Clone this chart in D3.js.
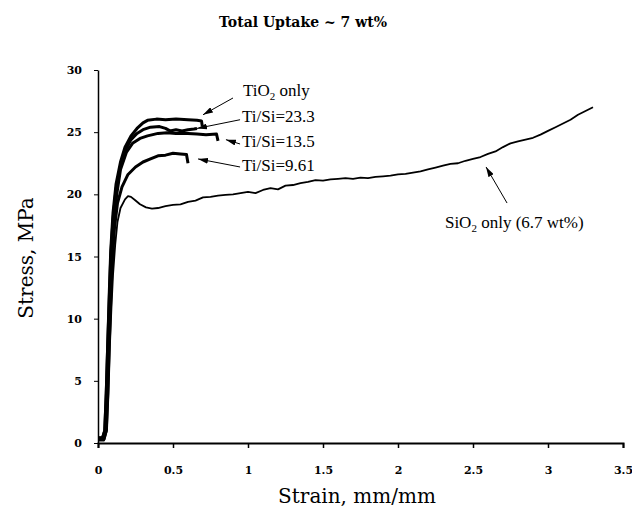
<!DOCTYPE html>
<html>
<head>
<meta charset="utf-8">
<script src="https://cdn.jsdelivr.net/npm/d3@7"></script>
<style>
  body { margin: 0; background: #fff; }
  svg { display: block; }
</style>
</head>
<body>
<svg id="chart"></svg>
<script>
// strain (mm/mm) and stress (MPa)
const tio2Strain = [0, 0.03, 0.045, 0.055, 0.065, 0.075, 0.085, 0.1, 0.12, 0.15, 0.18, 0.22, 0.26, 0.3, 0.33, 0.39, 0.45, 0.52, 0.6, 0.66, 0.69, 0.695];
const tio2Stress = [0.4, 0.4, 1, 4, 8, 12, 15.5, 18.5, 20.8, 22.6, 23.8, 24.7, 25.3, 25.75, 25.95, 26.05, 26.0, 26.05, 26.0, 25.95, 25.9, 25.5];

const ts233Strain = [0, 0.03, 0.045, 0.055, 0.065, 0.075, 0.085, 0.1, 0.12, 0.15, 0.18, 0.22, 0.26, 0.3, 0.35, 0.41, 0.45, 0.48, 0.52, 0.56, 0.6, 0.64, 0.66];
const ts233Stress = [0.4, 0.4, 1, 4, 8, 11.5, 15, 18, 20.4, 22.3, 23.5, 24.4, 24.9, 25.2, 25.4, 25.45, 25.3, 25.1, 25.2, 25.1, 25.2, 25.25, 25.3];

const ts135Strain = [0, 0.035, 0.05, 0.06, 0.07, 0.08, 0.09, 0.105, 0.125, 0.15, 0.19, 0.23, 0.28, 0.33, 0.4, 0.46, 0.52, 0.6, 0.66, 0.72, 0.79, 0.8];
const ts135Stress = [0.4, 0.4, 1, 4, 8, 11.5, 14.5, 17.5, 20, 22, 23.4, 24.1, 24.5, 24.7, 24.9, 24.95, 24.9, 24.9, 24.85, 24.8, 24.85, 24.3];

const ts961Strain = [0, 0.04, 0.055, 0.065, 0.075, 0.085, 0.095, 0.11, 0.13, 0.16, 0.2, 0.25, 0.3, 0.35, 0.4, 0.45, 0.5, 0.55, 0.59, 0.6];
const ts961Stress = [0.3, 0.3, 1, 4, 8, 11.5, 14.5, 17.3, 19.3, 20.6, 21.6, 22.2, 22.6, 22.85, 23.1, 23.15, 23.3, 23.25, 23.2, 22.5];

const sio2Strain = [0, 0.04, 0.06, 0.07, 0.08, 0.09, 0.1, 0.115, 0.13, 0.15, 0.18, 0.2, 0.22, 0.25, 0.28, 0.32, 0.36, 0.4, 0.45, 0.5, 0.55, 0.6, 0.65, 0.7, 0.75, 0.8, 0.85, 0.9, 0.95, 1.0, 1.05, 1.1, 1.15, 1.2, 1.25, 1.3, 1.35, 1.4, 1.45, 1.5, 1.55, 1.6, 1.65, 1.7, 1.75, 1.8, 1.85, 1.9, 1.95, 2.0, 2.05, 2.1, 2.15, 2.2, 2.25, 2.3, 2.35, 2.4, 2.45, 2.5, 2.55, 2.6, 2.65, 2.7, 2.75, 2.8, 2.85, 2.9, 2.95, 3.0, 3.05, 3.1, 3.15, 3.2, 3.25, 3.3];
const sio2Stress = [0.2, 0.2, 1, 4, 8, 11, 13.5, 16, 17.8, 18.9, 19.6, 19.85, 19.8, 19.5, 19.2, 18.95, 18.85, 18.9, 19.05, 19.15, 19.2, 19.4, 19.5, 19.75, 19.8, 19.9, 19.95, 20.0, 20.1, 20.2, 20.1, 20.35, 20.5, 20.4, 20.7, 20.75, 20.9, 21.0, 21.15, 21.1, 21.2, 21.25, 21.3, 21.25, 21.35, 21.3, 21.4, 21.45, 21.5, 21.6, 21.65, 21.75, 21.85, 22.0, 22.15, 22.3, 22.45, 22.5, 22.7, 22.85, 23.0, 23.25, 23.45, 23.8, 24.1, 24.25, 24.4, 24.55, 24.8, 25.1, 25.4, 25.7, 26.0, 26.4, 26.7, 27.0];

const xTicks = [0, 0.5, 1, 1.5, 2, 2.5, 3, 3.5];
const yTicks = [0, 5, 10, 15, 20, 25, 30];

// annotation labels: text, subscript part, rest, label anchor and arrow (data units)
const labelMain = ["TiO", "Ti/Si=23.3", "Ti/Si=13.5", "Ti/Si=9.61", "SiO"];
const labelSub = ["2", "", "", "", "2"];
const labelRest = [" only", "", "", "", " only (6.7 wt%)"];
const labelX = [0.967, 0.96, 0.96, 0.96, 2.313];
const labelY = [27.9, 25.8, 23.8, 21.9, 17.3];
const arrowFromX = [0.9, 0.947, 0.947, 0.947, 2.727];
const arrowFromY = [27.75, 26.0, 24.05, 22.2, 19.3];
const arrowToX = [0.7, 0.66, 0.853, 0.667, 2.587];
const arrowToY = [26.4, 25.3, 24.4, 22.85, 22.2];

const width = 632, height = 510;
const margin = {top: 70, right: 9, bottom: 67, left: 98};

const svg = d3.select("#chart")
    .attr("width", width)
    .attr("height", height);

const x = d3.scaleLinear().domain([0, 3.5]).range([margin.left, width - margin.right]);
const y = d3.scaleLinear().domain([0, 30]).range([height - margin.bottom, margin.top]);

// title
svg.append("text")
    .attr("x", 303).attr("y", 27)
    .attr("text-anchor", "middle")
    .style("font", "bold 14px 'DejaVu Serif'")
    .text("Total Uptake ~ 7 wt%");

// x axis
const xAxis = svg.append("g")
    .attr("transform", "translate(0," + y(0) + ")")
    .call(d3.axisBottom(x).tickValues(xTicks).tickSize(5).tickPadding(18).tickFormat(d3.format("")));
xAxis.select(".domain").attr("stroke-width", 2);
xAxis.selectAll("line").attr("stroke-width", 1.5);
xAxis.selectAll("text").style("font", "bold 11px 'DejaVu Serif'");

// y axis
const yAxis = svg.append("g")
    .attr("transform", "translate(" + x(0) + ",0)")
    .call(d3.axisLeft(y).tickValues(yTicks).tickSize(4).tickSizeOuter(0).tickPadding(12));
yAxis.select(".domain").attr("stroke-width", 1.5);
yAxis.selectAll("text").style("font", "bold 11px 'DejaVu Serif'");

// axis titles
svg.append("text")
    .attr("x", 357).attr("y", 503)
    .attr("text-anchor", "middle")
    .style("font", "20px 'DejaVu Serif'")
    .text("Strain, mm/mm");

svg.append("text")
    .attr("transform", "translate(33,258) rotate(-90)")
    .attr("text-anchor", "middle")
    .style("font", "20px 'DejaVu Serif'")
    .text("Stress, MPa");

// curves
const line = d3.line().x(d => x(d[0])).y(d => y(d[1]));
const curves = [
    {sx: sio2Strain, sy: sio2Stress, w: 1.8},
    {sx: ts961Strain, sy: ts961Stress, w: 3},
    {sx: ts135Strain, sy: ts135Stress, w: 3},
    {sx: ts233Strain, sy: ts233Stress, w: 3},
    {sx: tio2Strain, sy: tio2Stress, w: 3}
];
curves.forEach(c => {
    svg.append("path")
        .datum(c.sx.map((v, i) => [v, c.sy[i]]))
        .attr("d", line)
        .attr("fill", "none")
        .attr("stroke", "#000")
        .attr("stroke-width", c.w)
        .attr("stroke-linejoin", "round");
});

// arrows
svg.append("defs").append("marker")
    .attr("id", "head")
    .attr("viewBox", "0 0 10 6")
    .attr("refX", 10).attr("refY", 3)
    .attr("markerWidth", 10).attr("markerHeight", 6)
    .attr("markerUnits", "userSpaceOnUse")
    .attr("orient", "auto")
    .append("path")
    .attr("d", "M0,0 L10,3 L0,6 Z")
    .attr("fill", "#000");

labelMain.forEach((t, i) => {
    svg.append("line")
        .attr("x1", x(arrowFromX[i])).attr("y1", y(arrowFromY[i]))
        .attr("x2", x(arrowToX[i])).attr("y2", y(arrowToY[i]))
        .attr("stroke", "#000")
        .attr("stroke-width", 1)
        .attr("marker-end", "url(#head)");

    const txt = svg.append("text")
        .attr("x", x(labelX[i])).attr("y", y(labelY[i]))
        .style("font", "17px 'Liberation Serif'");
    txt.append("tspan").text(t);
    if (labelSub[i]) {
        txt.append("tspan").attr("dy", 4).style("font-size", "11px").text(labelSub[i]);
        txt.append("tspan").attr("dy", -4).text(labelRest[i]);
    }
});
</script>
</body>
</html>
